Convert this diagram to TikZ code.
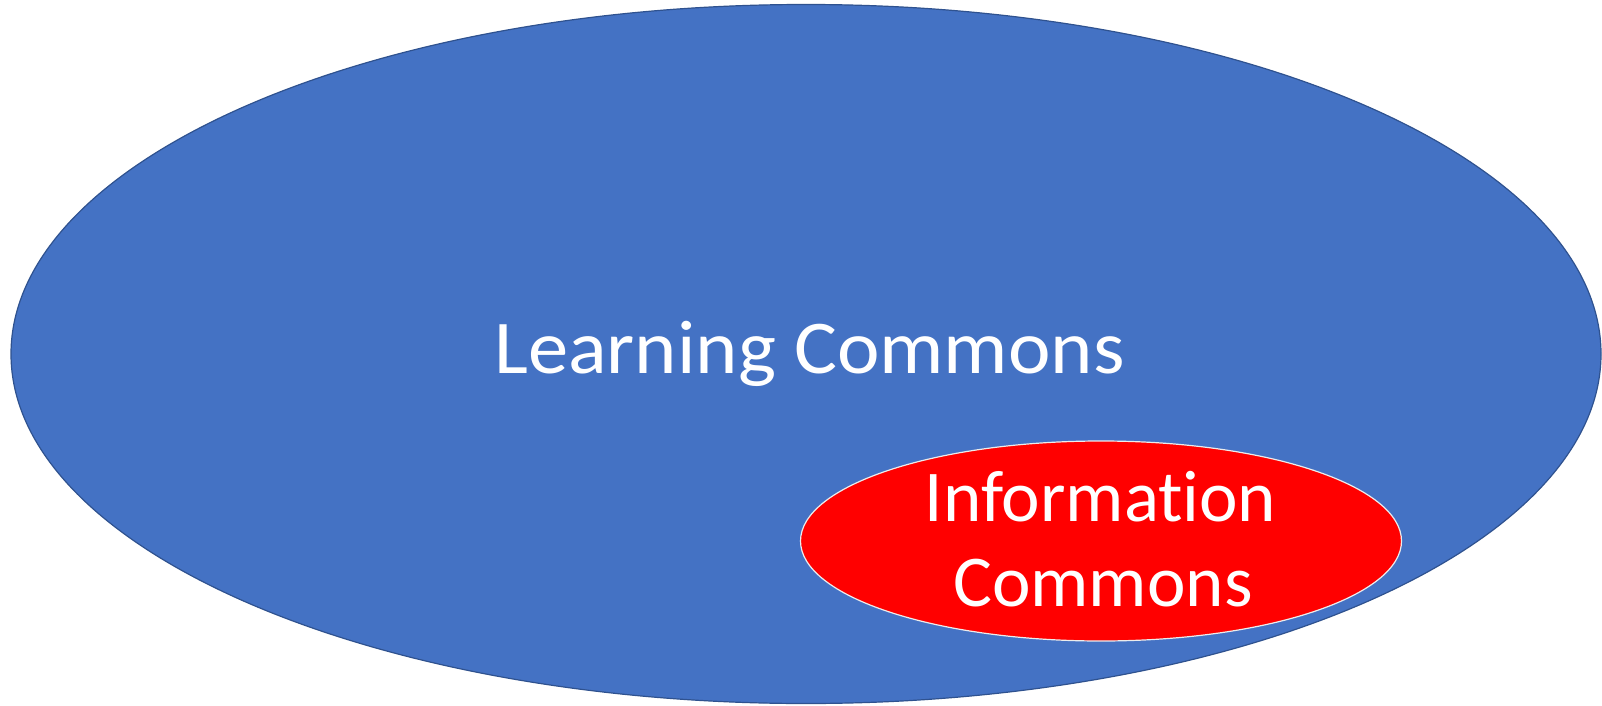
\documentclass[tikz,border=0pt]{standalone}
\usepackage{fontspec}
\setmainfont{Carlito}[Ligatures=NoCommon]
\usetikzlibrary{shapes.geometric}
\definecolor{lcblue}{HTML}{4472C4}
\definecolor{lcedge}{HTML}{2F528F}
\definecolor{icred}{HTML}{FF0000}
\begin{document}
\begin{tikzpicture}[x=1pt,y=-1pt,
  bigell/.style={ellipse,draw=lcedge,line width=1.2pt,fill=lcblue,minimum width=1590pt,minimum height=699pt,inner sep=0pt},
  smallell/.style={ellipse,draw=white!85!gray,line width=1.2pt,fill=icred,minimum width=601pt,minimum height=200pt,inner sep=0pt},
  lbl/.style={text=white,font=\fontsize{76}{76}\selectfont,anchor=base,inner sep=0pt},
  lbl2/.style={text=white,font=\fontsize{73}{73}\selectfont,anchor=base,inner sep=0pt}]
\useasboundingbox (0,0) rectangle (1602,706);
\node[bigell] (lc) at (806,354) {};
\node[smallell] (ic) at (1101,541) {};
\node[lbl] (lct) at (809.5,373) {\scalebox{1.06}[1]{Learning Commons}};
\node[lbl2] (ict1) at (1100.5,521) {Information};
\node[lbl2] (ict2) at (1103,606) {Commons};
\end{tikzpicture}
\end{document}
